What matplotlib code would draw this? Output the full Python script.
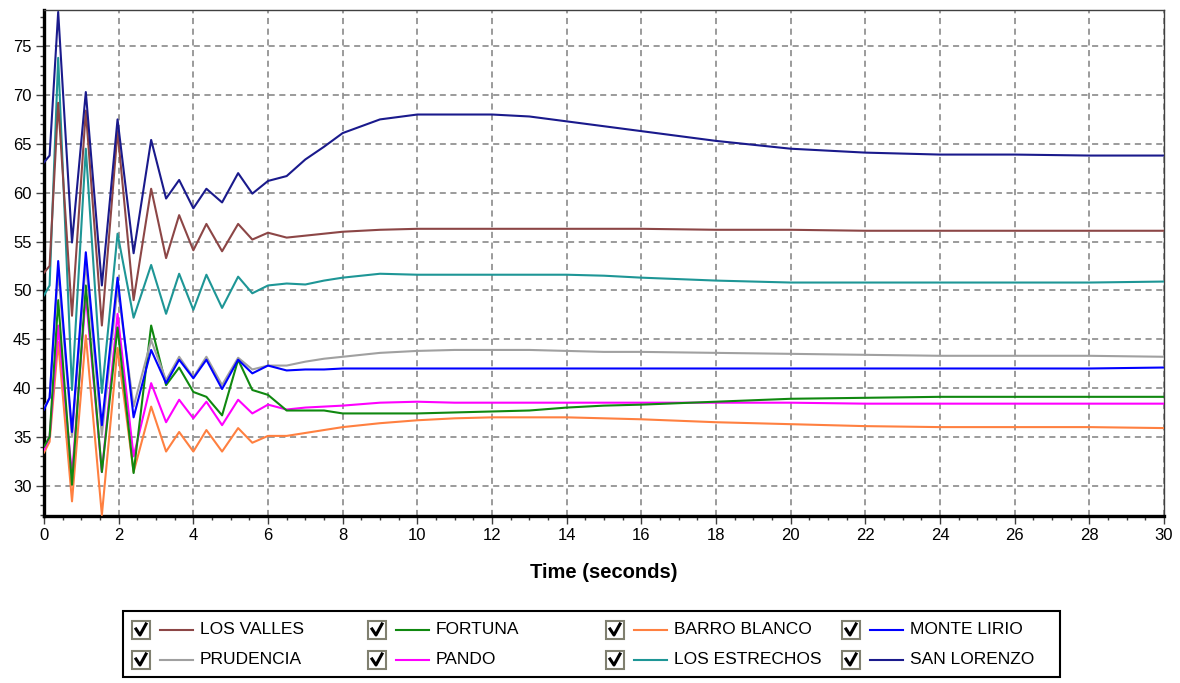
import matplotlib
matplotlib.use("Agg")
import matplotlib.pyplot as plt
from matplotlib.patches import Rectangle
from matplotlib.lines import Line2D
from matplotlib.ticker import MultipleLocator

plt.rcParams['font.family'] = ['Liberation Sans', 'DejaVu Sans']

# ---- data ----
time_s = [0, 0.15, 0.38, 0.75, 1.12, 1.55, 1.97, 2.4, 2.87, 3.27, 3.62, 4.0, 4.35, 4.77,
          5.2, 5.58, 6.0, 6.5, 7.0, 7.5, 8, 9, 10, 11, 12, 13, 14, 15, 16, 18, 20, 22,
          24, 26, 28, 30]

los_valles = [51.8, 52.5, 69.2, 47.4, 68.4, 46.4, 66.3, 49.0, 60.4, 53.3, 57.7, 54.1, 56.8, 54.0,
              56.8, 55.2, 55.9, 55.4, 55.6, 55.8, 56.0, 56.2, 56.3, 56.3, 56.3, 56.3, 56.3, 56.3,
              56.3, 56.2, 56.2, 56.1, 56.1, 56.1, 56.1, 56.1]
prudencia = [38.0, 39.0, 52.0, 35.0, 52.9, 35.2, 50.3, 38.1, 44.9, 40.8, 43.2, 41.1, 43.2, 40.3,
             43.1, 41.9, 42.3, 42.3, 42.7, 43.0, 43.2, 43.6, 43.8, 43.9, 43.9, 43.9, 43.8, 43.7,
             43.7, 43.6, 43.5, 43.4, 43.3, 43.3, 43.3, 43.2]
fortuna = [34.0, 35.0, 49.0, 30.1, 50.5, 31.4, 46.2, 31.3, 46.4, 40.3, 42.1, 39.6, 39.1, 37.2,
           42.9, 39.8, 39.3, 37.7, 37.7, 37.7, 37.4, 37.4, 37.4, 37.5, 37.6, 37.7, 38.0, 38.2,
           38.3, 38.6, 38.9, 39.0, 39.1, 39.1, 39.1, 39.1]
pando = [33.7, 35.0, 46.4, 31.1, 49.5, 31.4, 47.6, 33.0, 40.5, 36.5, 38.8, 36.9, 38.6, 36.2,
         38.8, 37.4, 38.3, 37.8, 38.0, 38.1, 38.2, 38.5, 38.6, 38.5, 38.5, 38.5, 38.5, 38.5,
         38.5, 38.5, 38.5, 38.4, 38.4, 38.4, 38.4, 38.4]
barro_blanco = [33.4, 34.5, 44.7, 28.4, 45.4, 27.0, 44.1, 31.4, 38.1, 33.5, 35.5, 33.5, 35.7, 33.5,
                35.9, 34.4, 35.1, 35.1, 35.4, 35.7, 36.0, 36.4, 36.7, 36.9, 37.0, 37.0, 37.0, 36.9,
                36.8, 36.5, 36.3, 36.1, 36.0, 36.0, 36.0, 35.9]
los_estrechos = [49.5, 50.5, 73.8, 39.8, 64.5, 39.5, 55.8, 47.2, 52.6, 47.6, 51.7, 48.0, 51.6, 48.2,
                 51.4, 49.7, 50.5, 50.7, 50.6, 51.0, 51.3, 51.7, 51.6, 51.6, 51.6, 51.6, 51.6, 51.5,
                 51.3, 51.0, 50.8, 50.8, 50.8, 50.8, 50.8, 50.9]
monte_lirio = [37.8, 39.0, 53.0, 35.5, 53.9, 36.2, 51.3, 37.0, 43.9, 40.5, 42.9, 41.0, 42.9, 39.9,
               42.9, 41.5, 42.3, 41.8, 41.9, 41.9, 42.0, 42.0, 42.0, 42.0, 42.0, 42.0, 42.0, 42.0,
               42.0, 42.0, 42.0, 42.0, 42.0, 42.0, 42.0, 42.1]
san_lorenzo = [63.1, 63.8, 78.5, 54.9, 70.3, 50.5, 67.5, 53.8, 65.4, 59.4, 61.3, 58.4, 60.4, 59.0,
               62.0, 59.9, 61.2, 61.7, 63.4, 64.7, 66.1, 67.5, 68.0, 68.0, 68.0, 67.8, 67.3, 66.8,
               66.3, 65.3, 64.5, 64.1, 63.9, 63.9, 63.8, 63.8]

names = ["LOS VALLES", "PRUDENCIA", "FORTUNA", "PANDO",
         "BARRO BLANCO", "LOS ESTRECHOS", "MONTE LIRIO", "SAN LORENZO"]
series = [los_valles, prudencia, fortuna, pando,
          barro_blanco, los_estrechos, monte_lirio, san_lorenzo]
colors = ["#8c4646", "#a0a0a0", "#108810", "#ff00ff",
          "#ff8040", "#1e9696", "#0000ff", "#1a1a8c"]

y_ticks = [30, 35, 40, 45, 50, 55, 60, 65, 70, 75]
x_ticks = list(range(0, 31, 2))

# ---- figure ----
W, H = 1180, 683
fig = plt.figure(figsize=(W / 100, H / 100), dpi=100)
ax = fig.add_axes([44 / W, 1 - 516 / H, (1164 - 44) / W, (516 - 10) / H])

draw_order = [4, 3, 2, 1, 6, 5, 0, 7]
for i in draw_order:
    ax.plot(time_s, series[i], color=colors[i], lw=1.5, zorder=3)

ax.set_xlim(0, 30)
ax.set_ylim(26.9, 78.7)
ax.set_xticks(x_ticks)
ax.set_yticks(y_ticks)
ax.xaxis.set_minor_locator(MultipleLocator(0.5))
ax.yaxis.set_minor_locator(MultipleLocator(1))
ax.tick_params(axis='both', which='major', direction='out', length=6, width=1,
               colors='#404040', labelcolor='black', labelsize=12, pad=3)
ax.tick_params(axis='both', which='minor', direction='out', length=3, width=1,
               colors='#404040')
ax.grid(True, which='major', color='#808080', linestyle=(0, (4, 3)), linewidth=1.1, zorder=1)

for side in ['left', 'bottom']:
    ax.spines[side].set_linewidth(2.4)
    ax.spines[side].set_color('black')
for side in ['top', 'right']:
    ax.spines[side].set_linewidth(1.0)
    ax.spines[side].set_color('#404040')

ax.set_xlabel("Time (seconds)", fontsize=14.5, fontweight='bold', labelpad=14)

# ---- legend box (custom, with check boxes) ----
def fx(px):
    return px / W

def fy(py):
    return 1 - py / H

fig.add_artist(Rectangle((fx(123), fy(677)), fx(1060) - fx(123), fy(611) - fy(677),
                         transform=fig.transFigure, facecolor='white',
                         edgecolor='black', linewidth=1.5))

col_x = [132, 368, 606, 842]
row_y = [630, 660]
for k, name in enumerate(names):
    c = k // 2
    r = k % 2
    x0 = col_x[c]
    yc = row_y[r]
    # check box
    fig.add_artist(Rectangle((fx(x0), fy(yc + 9)), fx(18), 18 / H,
                             transform=fig.transFigure, facecolor='white',
                             edgecolor='#808070', linewidth=1.5))
    fig.add_artist(Line2D([fx(x0 + 4), fx(x0 + 8), fx(x0 + 14)],
                          [fy(yc - 1), fy(yc + 5), fy(yc - 6)],
                          transform=fig.transFigure, color='black', linewidth=2.2))
    # line sample
    fig.add_artist(Line2D([fx(x0 + 28), fx(x0 + 61)], [fy(yc), fy(yc)],
                          transform=fig.transFigure, color=colors[k], linewidth=1.5))
    fig.text(fx(x0 + 68), fy(yc), name, fontsize=12.5, va='center', ha='left',
             color='black')

fig.savefig("out.png", dpi=100)
